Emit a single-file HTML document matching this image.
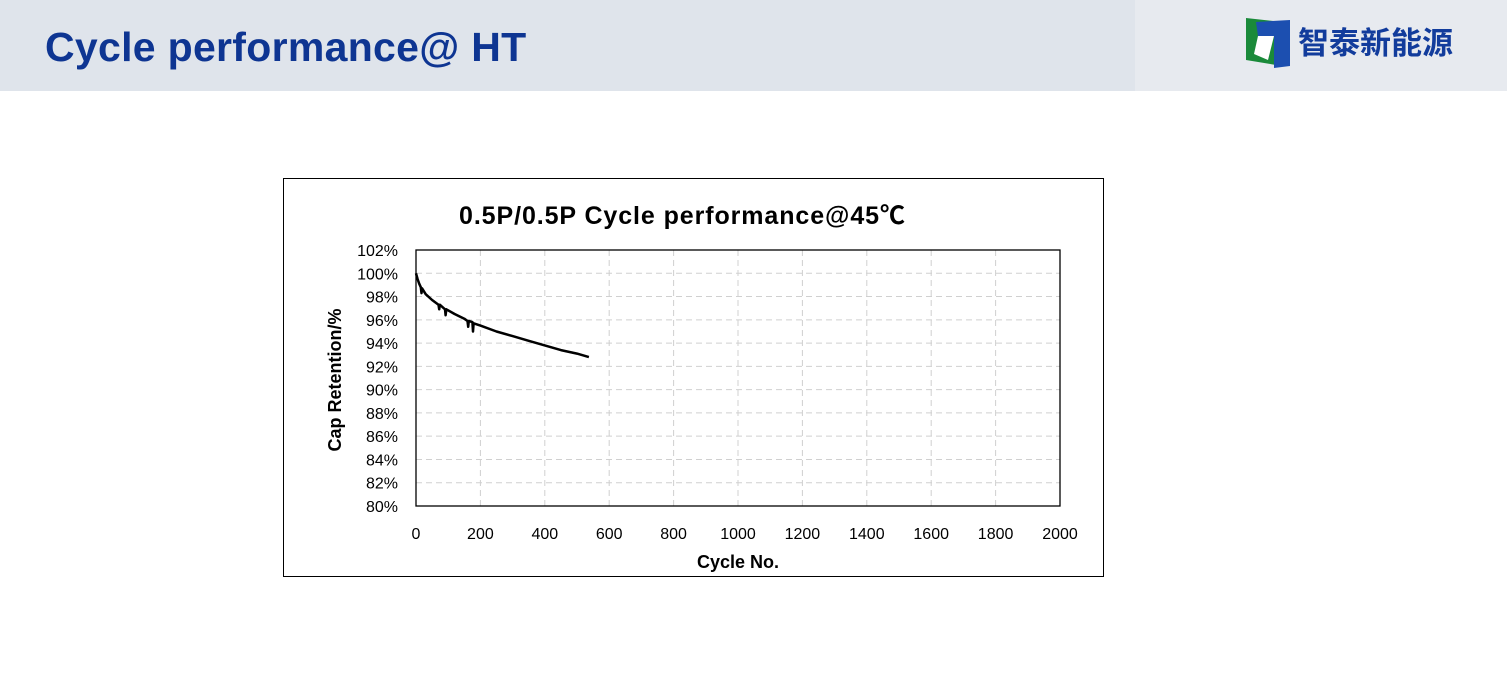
<!DOCTYPE html>
<html><head><meta charset="utf-8">
<style>
body{margin:0;width:1507px;height:679px;background:#fff;position:relative;overflow:hidden;font-family:"Liberation Sans","Noto Sans CJK SC",sans-serif}
.hdr{position:absolute;left:0;top:0;width:1135px;height:91px;background:#dfe4eb}
.hdr2{position:absolute;left:1135px;top:0;width:372px;height:91px;background:#e7eaef}
.title{position:absolute;left:45px;top:24px;font-size:41px;font-weight:bold;color:#0e3592;letter-spacing:0.3px}
.logo{position:absolute;left:1298px;top:18px;font-size:31px;font-weight:bold;color:#123c9c;letter-spacing:0px;font-family:"Noto Sans CJK SC",sans-serif}
</style></head><body>
<div class="hdr"></div>
<div class="hdr2"></div>
<div class="title">Cycle performance@ HT</div>
<svg style="position:absolute;left:1244px;top:16px" width="50" height="54">
<polygon points="2,2 38,6 38,50 2,44" fill="#1a8a3a"/>
<polygon points="12,6 46,4 46,50 30,52 30,20 14,20" fill="#1c4fb0"/>
<polygon points="14,20 30,20 24,44 10,38" fill="#fff"/>
</svg>
<div class="logo">智泰新能源</div>
<svg id="chart" style="position:absolute;left:0;top:0" width="1507" height="679"></svg>
<script>
const cycles=[0,5,10,15,17,19,30,50,70,72,74,90,92,94,120,150,160,162,164,175,177,179,200,250,300,350,400,450,500,537];
const retention=[100,99.5,99.1,98.8,98.3,98.7,98.2,97.7,97.3,96.9,97.3,96.9,96.4,96.9,96.5,96.1,95.9,95.4,95.9,95.8,95.0,95.7,95.5,95.0,94.6,94.2,93.8,93.4,93.1,92.8];
const xTicks=[0,200,400,600,800,1000,1200,1400,1600,1800,2000];
const yTicks=[80,82,84,86,88,90,92,94,96,98,100,102];
const NS="http://www.w3.org/2000/svg";
const svg=document.getElementById('chart');
const X0=416,X1=1060,Y0=506,Y1=250;
const xs=v=>X0+(v-0)/(2000)*(X1-X0);
const ys=v=>Y0-(v-80)/22*(Y0-Y1);
function mk(t,a,txt){const e=document.createElementNS(NS,t);for(const k in a)e.setAttribute(k,a[k]);if(txt!=null)e.textContent=txt;svg.appendChild(e);return e;}
let e=mk('rect',{x:283.5,y:178.5,width:820,height:398,fill:'none',stroke:'#000','stroke-width':1});

e=mk('text',{x:682,y:224,'text-anchor':'middle','font-size':25,'font-weight':'bold','textLength':446,'font-family':'"Liberation Sans","Noto Sans CJK SC",sans-serif'},'0.5P/0.5P Cycle performance@45℃');

yTicks.forEach(v=>{
 if(v>80&&v<102){const g=mk('line',{x1:X0,x2:X1,y1:ys(v),y2:ys(v),stroke:'#d0d0d0','stroke-dasharray':'6,4'});}
 const t=mk('text',{x:X0-18,y:ys(v)+6,'text-anchor':'end','font-size':16},v+'%');
 
});
xTicks.forEach(v=>{
 if(v>0&&v<2000){const g=mk('line',{x1:xs(v),x2:xs(v),y1:Y1,y2:Y0,stroke:'#d0d0d0','stroke-dasharray':'6,4'});}
 const t=mk('text',{x:xs(v),y:539,'text-anchor':'middle','font-size':16},v);
 
});
e=mk('rect',{x:X0,y:Y1,width:X1-X0,height:Y0-Y1,fill:'none',stroke:'#000','stroke-width':1.3});

e=mk('text',{x:738,y:568,'text-anchor':'middle','font-size':18,'font-weight':'bold'},'Cycle No.');

e=mk('text',{x:0,y:0,'text-anchor':'middle','font-size':18,'font-weight':'bold',transform:'translate(341,380) rotate(-90)'},'Cap Retention/%');

const pts=cycles.map((c,i)=>xs(c).toFixed(1)+','+ys(retention[i]).toFixed(1)).join(' ');
e=mk('polyline',{points:pts,fill:'none',stroke:'#000','stroke-width':2.5,'stroke-linejoin':'round'});

</script>
</body></html>
